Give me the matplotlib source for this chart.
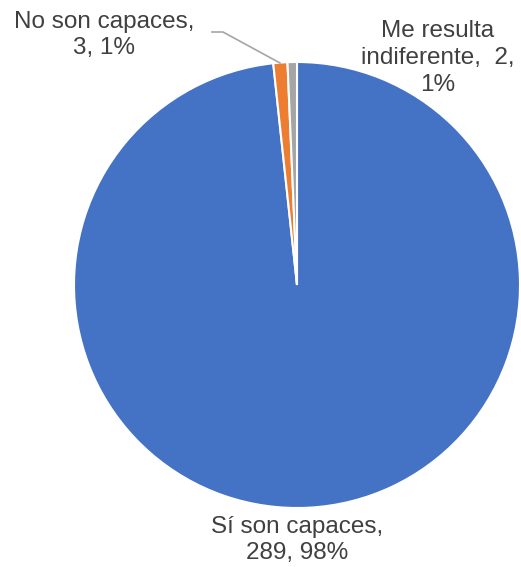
import matplotlib
matplotlib.use("Agg")
import matplotlib.pyplot as plt

labels = ["Sí son capaces", "No son capaces", "Me resulta indiferente"]
values = [289, 3, 2]
percents = ["98%", "1%", "1%"]
colors = ["#4472C4", "#ED7D31", "#A5A5A5"]

W, H = 521, 567
fig = plt.figure(figsize=(W / 100, H / 100), dpi=100)
ax = fig.add_axes([0, 0, 1, 1])

cx, cy, r = 297, H - 285, 223
ax.pie(values, colors=colors, startangle=90, counterclock=False,
       center=(cx, cy), radius=r, frame=True,
       wedgeprops=dict(edgecolor="white", linewidth=1.5))
ax.set_xlim(0, W)
ax.set_ylim(0, H)
ax.set_aspect("equal")
ax.axis("off")

font = dict(family="Liberation Sans", fontsize=17.5, color="#404040",
            ha="center", va="center")
ax.text(297, H - 540, f"{labels[0]},\n{values[0]}, {percents[0]}",
        linespacing=1.25, **font)
ax.text(104, H - 35, f"{labels[1]},\n{values[1]}, {percents[1]}",
        linespacing=1.25, **font)
ax.text(438, H - 58, f"Me resulta\nindiferente,  {values[2]},\n{percents[2]}",
        linespacing=1.3, **font)

# leader line for the small slice
ax.plot([212, 223, 280], [H - 32, H - 32, H - 63], color="#A5A5A5", lw=1.2)

fig.savefig("out.png", dpi=100)
